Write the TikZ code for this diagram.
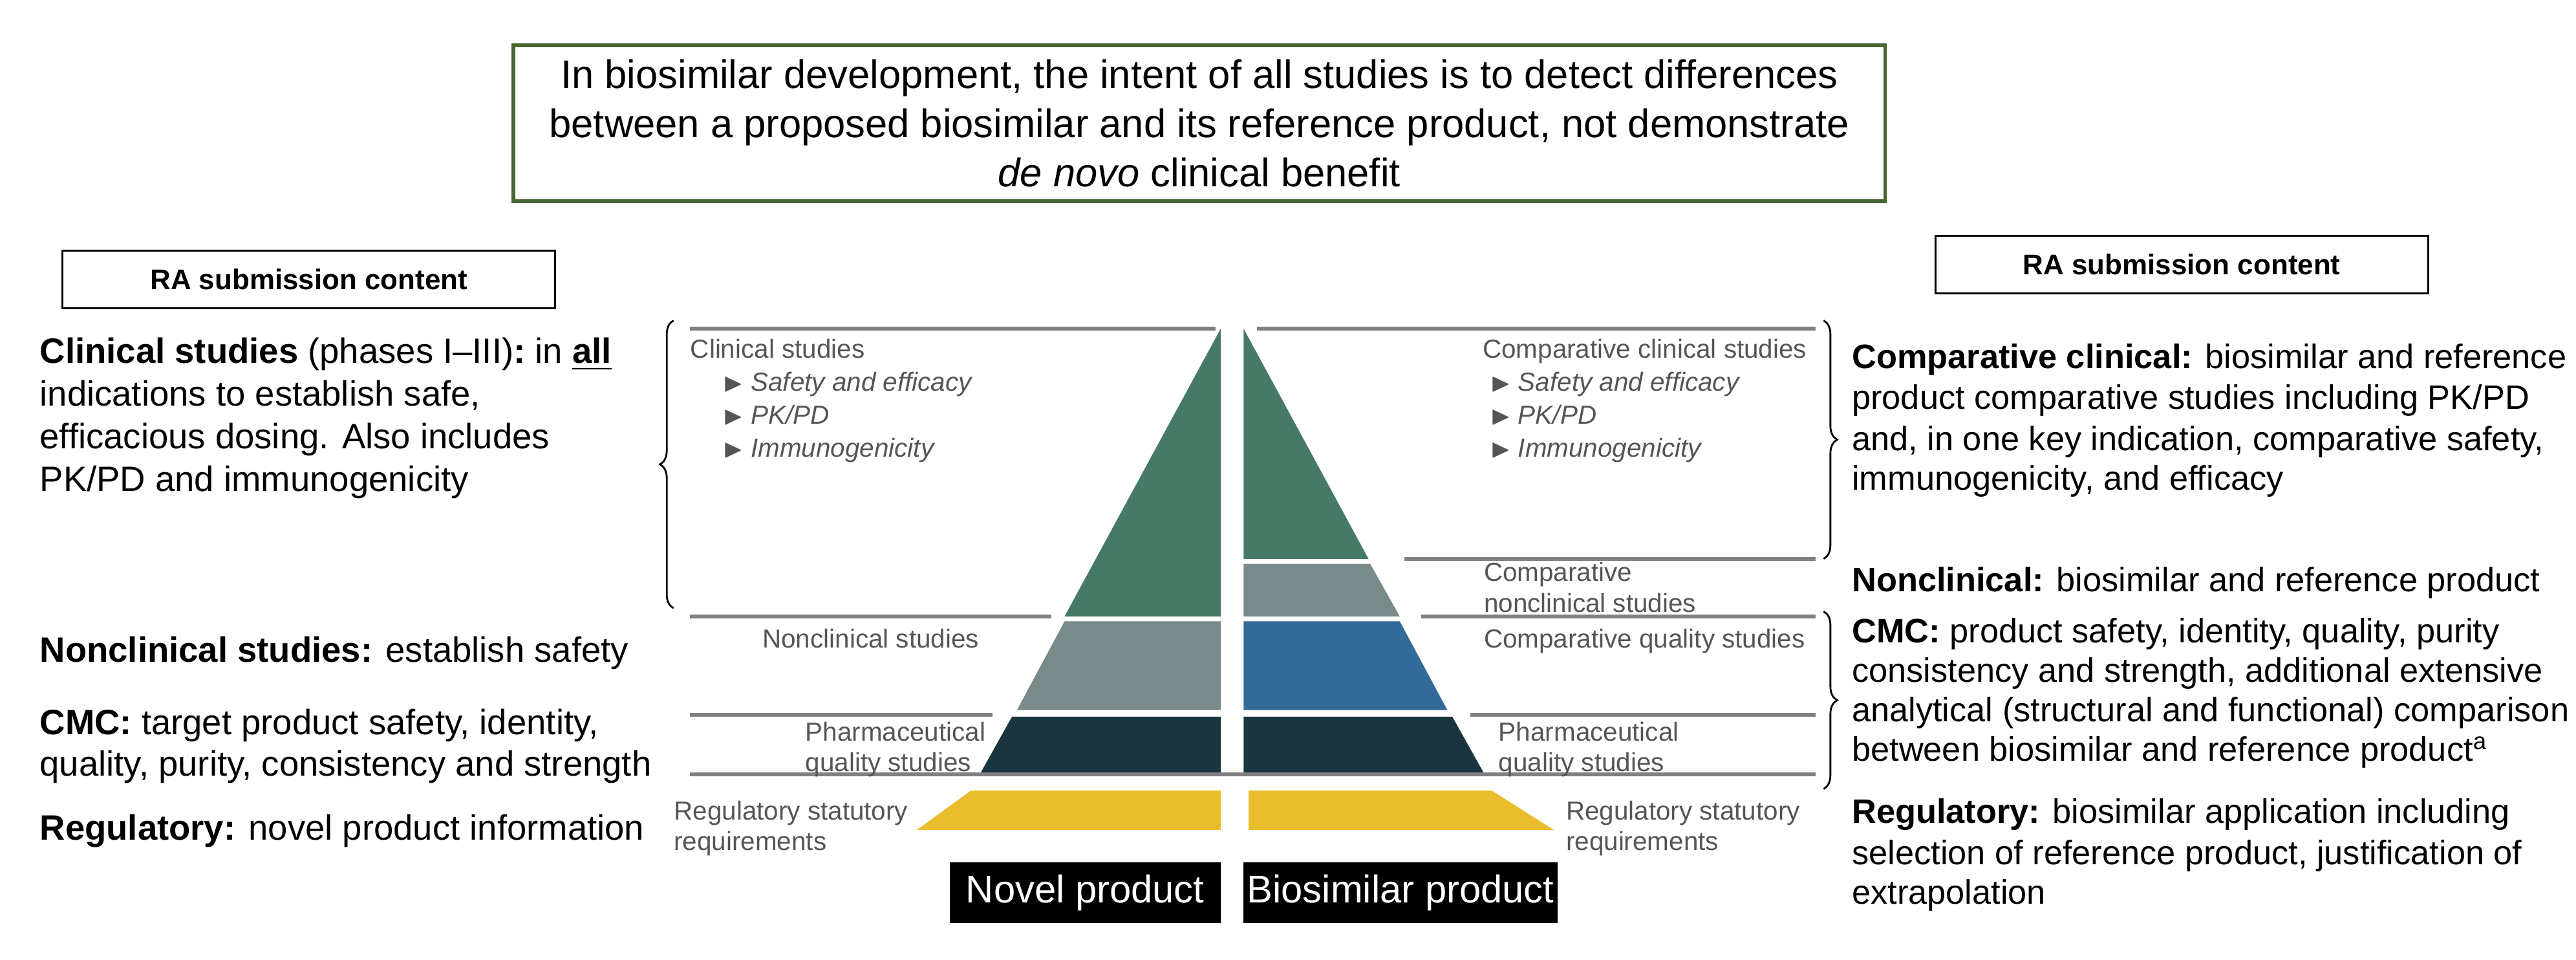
\documentclass[tikz,border=0pt]{standalone}
\usepackage{amssymb}
\usepackage{fontspec}
\setmainfont{Liberation Sans}
\usetikzlibrary{shapes,arrows,decorations,decorations.pathreplacing,arrows.meta}
\definecolor{clingreen}{HTML}{467A67}
\definecolor{noncgray}{HTML}{798A8B}
\definecolor{qualblue}{HTML}{336A9A}
\definecolor{pharmdark}{HTML}{1B3540}
\definecolor{regyellow}{HTML}{E9BD2C}
\definecolor{frameolive}{HTML}{4A6630}
\definecolor{lblgray}{HTML}{555555}
\begin{document}
\begin{tikzpicture}[x=0.0254cm,y=-0.0254cm]
	\tikzstyle{every node}=[inner sep=0pt]
	\tikzstyle{desc}=[anchor=base west,font=\fontsize{15.5}{19}\selectfont]
	\tikzstyle{descr}=[anchor=base west,font=\fontsize{14.9}{19}\selectfont]
	\tikzstyle{lbl}=[font=\fontsize{11.5}{13.5}\selectfont,text=lblgray]
	\tikzstyle{rabox}=[draw,thick,minimum width=300*0.0254cm,minimum height=35*0.0254cm,font=\bfseries\fontsize{12.5}{15}\selectfont]
	\tikzstyle{sep}=[draw=gray,line width=1.6pt]
	\tikzstyle{brc}=[draw,thick,decorate,decoration={brace,amplitude=6pt}]
	\tikzstyle{prod}=[fill=black,text=white,font=\fontsize{17}{20}\selectfont,minimum height=37*0.0254cm]
	
	\useasboundingbox (0,0) rectangle (1568,584);
	
	%% headline
	\node [draw=frameolive,line width=1.6pt,minimum width=835*0.0254cm,minimum height=95*0.0254cm,align=center,font=\fontsize{17.5}{21.6}\selectfont] (intent) at (730,75)
	{In biosimilar development, the intent of all studies is to detect differences\\between a proposed biosimilar and its reference product, not demonstrate\\\textit{de novo} clinical benefit};
	\node [rabox] (raleft) at (188,170) {RA submission content};
	\node [rabox] (raright) at (1328,161) {RA submission content};
	
	%% left pyramid
	\fill [clingreen] (743,200) -- (743,375) -- (648,375) -- cycle;
	\fill [noncgray] (743,378) -- (743,432) -- (619,432) -- (648,378) -- cycle;
	\fill [pharmdark] (743,436) -- (743,470) -- (597,470) -- (616,436) -- cycle;
	\fill [regyellow] (743,481) -- (743,505) -- (558,505) -- (591,481) -- cycle;
	%% right pyramid
	\fill [clingreen] (757,200) -- (757,340) -- (833,340) -- cycle;
	\fill [noncgray] (757,343) -- (757,375) -- (852,375) -- (834,343) -- cycle;
	\fill [qualblue] (757,378) -- (757,432) -- (881,432) -- (852,378) -- cycle;
	\fill [pharmdark] (757,436) -- (757,470) -- (903,470) -- (884,436) -- cycle;
	\fill [regyellow] (760,481) -- (760,505) -- (946,505) -- (908,481) -- cycle;
	
	%% separator lines
	\draw [sep] (420,200) -- (740,200);
	\draw [sep] (420,375) -- (640,375);
	\draw [sep] (420,435) -- (604,435);
	\draw [sep] (420,471) -- (1105,471);
	\draw [sep] (765,200) -- (1105,200);
	\draw [sep] (855,340) -- (1105,340);
	\draw [sep] (865,375) -- (1105,375);
	\draw [sep] (895,435) -- (1105,435);
	
	%% braces
	\draw [brc] (410,370) -- (410,195);
	\draw [brc] (1110,195) -- (1110,340);
	\draw [brc] (1110,372) -- (1110,480);
	
	%% pyramid labels
	\node [lbl,anchor=base west] (clinl) at (420,218) {Clinical studies};
	\node [lbl,anchor=base west] (safel) at (440,238) {$\blacktriangleright$ \textit{Safety and efficacy}};
	\node [lbl,anchor=base west] (pkl) at (440,258) {$\blacktriangleright$ \textit{PK/PD}};
	\node [lbl,anchor=base west] (imml) at (440,278) {$\blacktriangleright$ \textit{Immunogenicity}};
	\node [lbl,anchor=base] (noncl) at (530,394) {Nonclinical studies};
	\node [lbl,anchor=north west,align=left] (pharml) at (490,439) {Pharmaceutical\\quality studies};
	\node [lbl,anchor=north west,align=left] (regl) at (410,487) {Regulatory statutory\\requirements};
	\node [lbl,anchor=base east] (clinr) at (1100,218) {Comparative clinical studies};
	\node [lbl,anchor=base west] (safer) at (907,238) {$\blacktriangleright$ \textit{Safety and efficacy}};
	\node [lbl,anchor=base west] (pkr) at (907,258) {$\blacktriangleright$ \textit{PK/PD}};
	\node [lbl,anchor=base west] (immr) at (907,278) {$\blacktriangleright$ \textit{Immunogenicity}};
	\node [lbl,anchor=north west,align=left] (noncr) at (903,342) {Comparative\\nonclinical studies};
	\node [lbl,anchor=base west] (qualr) at (903,394) {Comparative quality studies};
	\node [lbl,anchor=north west,align=left] (pharmr) at (912,439) {Pharmaceutical\\quality studies};
	\node [lbl,anchor=north west,align=left] (regr) at (953,487) {Regulatory statutory\\requirements};
	
	%% product tags
	\node [prod,minimum width=165*0.0254cm] (novel) at (660.5,543) {Novel product};
	\node [prod,minimum width=191*0.0254cm] (biosim) at (852.5,543) {Biosimilar product};
	
	%% left column
	\node [desc] (clinicalL) at (24,221) {\textbf{Clinical studies} (phases I–III)\textbf{:} in \textbf{\underline{all}}};
	\node [desc] (clinicalL2) at (24,247) {indications to establish safe,};
	\node [desc] (clinicalL3) at (24,273) {efficacious dosing. Also includes};
	\node [desc] (clinicalL4) at (24,299) {PK/PD and immunogenicity};
	\node [desc] (noncL) at (24,403) {\textbf{Nonclinical studies:} establish safety};
	\node [desc] (cmcL) at (24,447) {\textbf{CMC:} target product safety, identity,};
	\node [desc] (cmcL2) at (24,472) {quality, purity, consistency and strength};
	\node [desc] (regL) at (24,511) {\textbf{Regulatory:} novel product information};
	
	%% right column
	\node [descr] (clinicalR) at (1127,224) {\textbf{Comparative clinical:} biosimilar and reference};
	\node [descr] (clinicalR2) at (1127,249) {product comparative studies including PK/PD};
	\node [descr] (clinicalR3) at (1127,274) {and, in one key indication, comparative safety,};
	\node [descr] (clinicalR4) at (1127,298) {immunogenicity, and efficacy};
	\node [descr] (noncR) at (1127,360) {\textbf{Nonclinical:} biosimilar and reference product};
	\node [descr] (cmcR) at (1127,391) {\textbf{CMC:} product safety, identity, quality, purity};
	\node [descr] (cmcR2) at (1127,415) {consistency and strength, additional extensive};
	\node [descr] (cmcR3) at (1127,439) {analytical (structural and functional) comparison};
	\node [descr] (cmcR4) at (1127,463) {between biosimilar and reference product\textsuperscript{a}};
	\node [descr] (regR) at (1127,501) {\textbf{Regulatory:} biosimilar application including};
	\node [descr] (regR2) at (1127,526) {selection of reference product, justification of};
	\node [descr] (regR3) at (1127,550) {extrapolation};

\end{tikzpicture}
\end{document}
